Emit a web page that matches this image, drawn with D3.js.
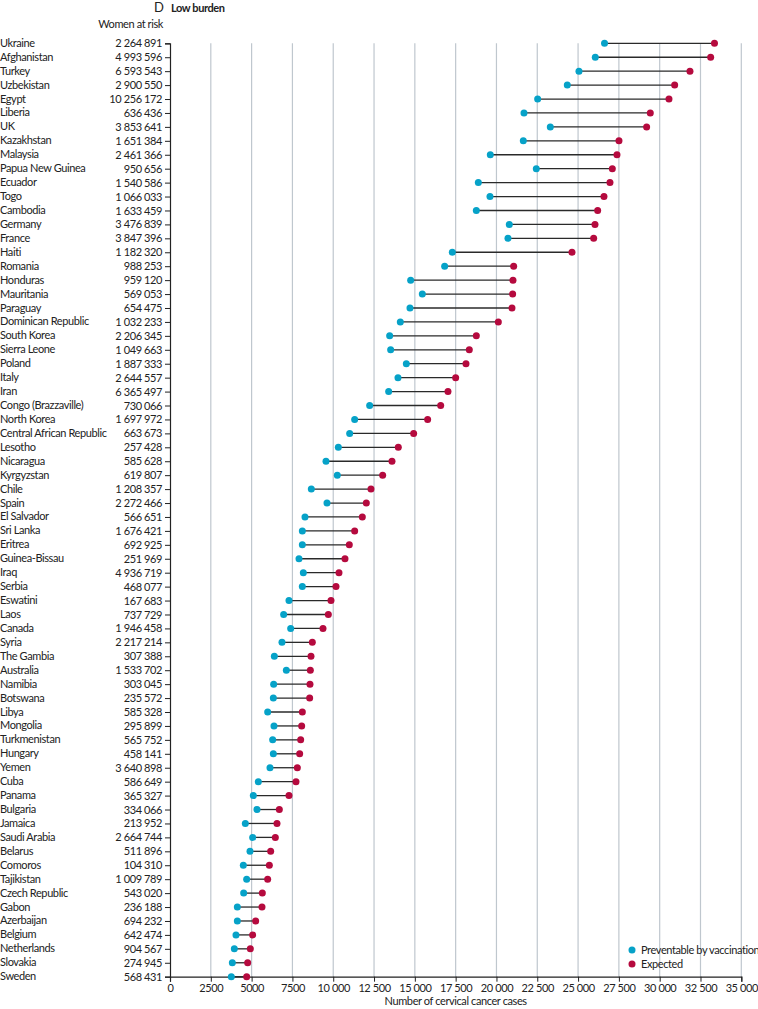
<!DOCTYPE html>
<html>
<head>
<meta charset="utf-8">
<script src="https://cdn.jsdelivr.net/npm/d3@7"></script>
<style>
  body { margin: 0; background: #fff; }
  svg text { font-family: "Lato", sans-serif; fill: #222; letter-spacing: -0.4px; }
</style>
</head>
<body>
<div id="chart-container"></div>
<script>
var countries = ["Ukraine", "Afghanistan", "Turkey", "Uzbekistan", "Egypt", "Liberia", "UK", "Kazakhstan",
    "Malaysia", "Papua New Guinea", "Ecuador", "Togo", "Cambodia", "Germany", "France", "Haiti", "Romania",
    "Honduras", "Mauritania", "Paraguay", "Dominican Republic", "South Korea", "Sierra Leone", "Poland",
    "Italy", "Iran", "Congo (Brazzaville)", "North Korea", "Central African Republic", "Lesotho", "Nicaragua",
    "Kyrgyzstan", "Chile", "Spain", "El Salvador", "Sri Lanka", "Eritrea", "Guinea-Bissau", "Iraq", "Serbia",
    "Eswatini", "Laos", "Canada", "Syria", "The Gambia", "Australia", "Namibia", "Botswana", "Libya",
    "Mongolia", "Turkmenistan", "Hungary", "Yemen", "Cuba", "Panama", "Bulgaria", "Jamaica", "Saudi Arabia",
    "Belarus", "Comoros", "Tajikistan", "Czech Republic", "Gabon", "Azerbaijan", "Belgium", "Netherlands",
    "Slovakia", "Sweden"];

var womenAtRisk = [2264891, 4993596, 6593543, 2900550, 10256172, 636436, 3853641, 1651384,
    2461366, 950656, 1540586, 1066033, 1633459, 3476839, 3847396, 1182320, 988253,
    959120, 569053, 654475, 1032233, 2206345, 1049663, 1887333,
    2644557, 6365497, 730066, 1697972, 663673, 257428, 585628,
    619807, 1208357, 2272466, 566651, 1676421, 692925, 251969, 4936719, 468077,
    167683, 737729, 1946458, 2217214, 307388, 1533702, 303045, 235572, 585328,
    295899, 565752, 458141, 3640898, 586649, 365327, 334066, 213952, 2664744,
    511896, 104310, 1009789, 543020, 236188, 694232, 642474, 904567,
    274945, 568431];

var preventable = [26620, 26055, 25055, 24340, 22524, 21686, 23299, 21645,
    19623, 22441, 18889, 19603, 18766, 20787, 20706, 17296, 16826,
    14744, 15458, 14702, 14110, 13457, 13518, 14478,
    13967, 13396, 12232, 11313, 11007, 10312, 9557,
    10250, 8658, 9618, 8270, 8107, 8107, 7903, 8168, 8107,
    7290, 6963, 7393, 6861, 6392, 7127, 6351, 6331, 5984,
    6371, 6290, 6331, 6126, 5411, 5105, 5330, 4615, 5064,
    4901, 4492, 4697, 4513, 4125, 4125, 4043, 3941,
    3818, 3757];

var expected = [33357, 33122, 31855, 30918, 30569, 29425, 29200, 27506,
    27383, 27098, 26954, 26587, 26200, 26036, 25955, 24627, 21054,
    21012, 20992, 20951, 20114, 18766, 18337, 18133,
    17500, 17030, 16583, 15784, 14927, 13987, 13600,
    13028, 12313, 12027, 11782, 11313, 10985, 10720, 10353, 10169,
    9863, 9700, 9373, 8719, 8638, 8597, 8576, 8556, 8107,
    8066, 8005, 7944, 7801, 7719, 7290, 6698, 6555, 6453,
    6167, 6085, 5982, 5656, 5636, 5248, 5064, 4921,
    4758, 4697];

var xTicks = [0, 2500, 5000, 7500, 10000, 12500, 15000, 17500, 20000, 22500, 25000, 27500, 30000, 32500, 35000];

var legendItems = ["Preventable by vaccination", "Expected"];

var settings = {
    w: 758,
    h: 1009,
    left: 170,
    right: 741.3,
    top: 43.3,
    bottom: 976.7,
    teal: "#06a2c8",
    red: "#b50a3e",
    grid: "#bfc7ce"
};

// space-grouped thousands, 4-digit numbers left alone
function fmtNum(v) {
    if (v < 10000) return String(v);
    return String(v).replace(/\B(?=(\d{3})+(?!\d))/g, " ");
}

var data = countries.map(function(c, i) {
    return { name: c, risk: womenAtRisk[i], prev: preventable[i], exp: expected[i] };
});

var svg = d3.select("#chart-container").append("svg")
    .attr("width", settings.w).attr("height", settings.h);

var xScale = d3.scaleLinear().domain([0, 35000]).range([settings.left, settings.right]);
var yScale = d3.scalePoint().domain(countries).range([settings.top, settings.bottom]);

// gridlines
svg.append("g").selectAll("line")
    .data(xTicks.filter(function(d) { return d > 0; }))
    .enter().append("line")
    .attr("x1", function(d) { return xScale(d); })
    .attr("x2", function(d) { return xScale(d); })
    .attr("y1", settings.top)
    .attr("y2", settings.bottom)
    .attr("stroke", settings.grid)
    .attr("stroke-width", 1.2);

// bottom axis
var xAxis = d3.axisBottom(xScale).tickValues(xTicks).tickSize(5).tickPadding(3).tickFormat(fmtNum);
var gx = svg.append("g")
    .attr("transform", "translate(0," + settings.bottom + ")")
    .call(xAxis);
gx.select(".domain").attr("stroke", "#222").attr("stroke-width", 1.2);
gx.selectAll(".tick line").attr("stroke", "#222");
gx.selectAll("text").style("font-size", "11px").attr("fill", "#222");

// left axis with women at risk as labels
var yAxis = d3.axisLeft(yScale).tickSize(5).tickPadding(3)
    .tickFormat(function(d, i) { return fmtNum(womenAtRisk[i]); });
var gy = svg.append("g")
    .attr("transform", "translate(" + settings.left + ",0)")
    .call(yAxis);
gy.select(".domain").attr("stroke", "#222").attr("stroke-width", 1.2);
gy.selectAll(".tick line").attr("stroke", "#222");
gy.selectAll("text").style("font-size", "11px").attr("fill", "#222");

// country names
svg.append("g").selectAll("text")
    .data(data)
    .enter().append("text")
    .attr("x", 0)
    .attr("y", function(d) { return yScale(d.name); })
    .attr("dy", "0.32em")
    .style("font-size", "11px")
    .text(function(d) { return d.name; });

// connectors
svg.append("g").selectAll("line")
    .data(data)
    .enter().append("line")
    .attr("x1", function(d) { return xScale(d.prev); })
    .attr("x2", function(d) { return xScale(d.exp); })
    .attr("y1", function(d) { return yScale(d.name); })
    .attr("y2", function(d) { return yScale(d.name); })
    .attr("stroke", "#2a2a2a")
    .attr("stroke-width", 1.3);

svg.append("g").selectAll("circle")
    .data(data)
    .enter().append("circle")
    .attr("cx", function(d) { return xScale(d.prev); })
    .attr("cy", function(d) { return yScale(d.name); })
    .attr("r", 3.5)
    .attr("fill", settings.teal);

svg.append("g").selectAll("circle")
    .data(data)
    .enter().append("circle")
    .attr("cx", function(d) { return xScale(d.exp); })
    .attr("cy", function(d) { return yScale(d.name); })
    .attr("r", 3.5)
    .attr("fill", settings.red);

// titles
svg.append("text").attr("x", 154).attr("y", 12)
    .style("font-size", "13px").text("D");
svg.append("text").attr("x", 171).attr("y", 12)
    .style("font-size", "11px").style("font-weight", "bold").text("Low burden");
svg.append("text").attr("x", 163).attr("y", 28).attr("text-anchor", "end")
    .style("font-size", "11px").text("Women at risk");

svg.append("text")
    .attr("x", (settings.left + settings.right) / 2)
    .attr("y", 1005)
    .attr("text-anchor", "middle")
    .style("font-size", "11px")
    .text("Number of cervical cancer cases");

// legend
var legend = svg.append("g").attr("transform", "translate(632,950)");
legend.selectAll("circle")
    .data(legendItems)
    .enter().append("circle")
    .attr("cx", 0)
    .attr("cy", function(d, i) { return i * 14; })
    .attr("r", 3.5)
    .attr("fill", function(d, i) { return i === 0 ? settings.teal : settings.red; });
legend.selectAll("text")
    .data(legendItems)
    .enter().append("text")
    .attr("x", 9)
    .attr("y", function(d, i) { return i * 14; })
    .attr("dy", "0.35em")
    .style("font-size", "11px")
    .text(function(d) { return d; });
</script>
</body>
</html>
